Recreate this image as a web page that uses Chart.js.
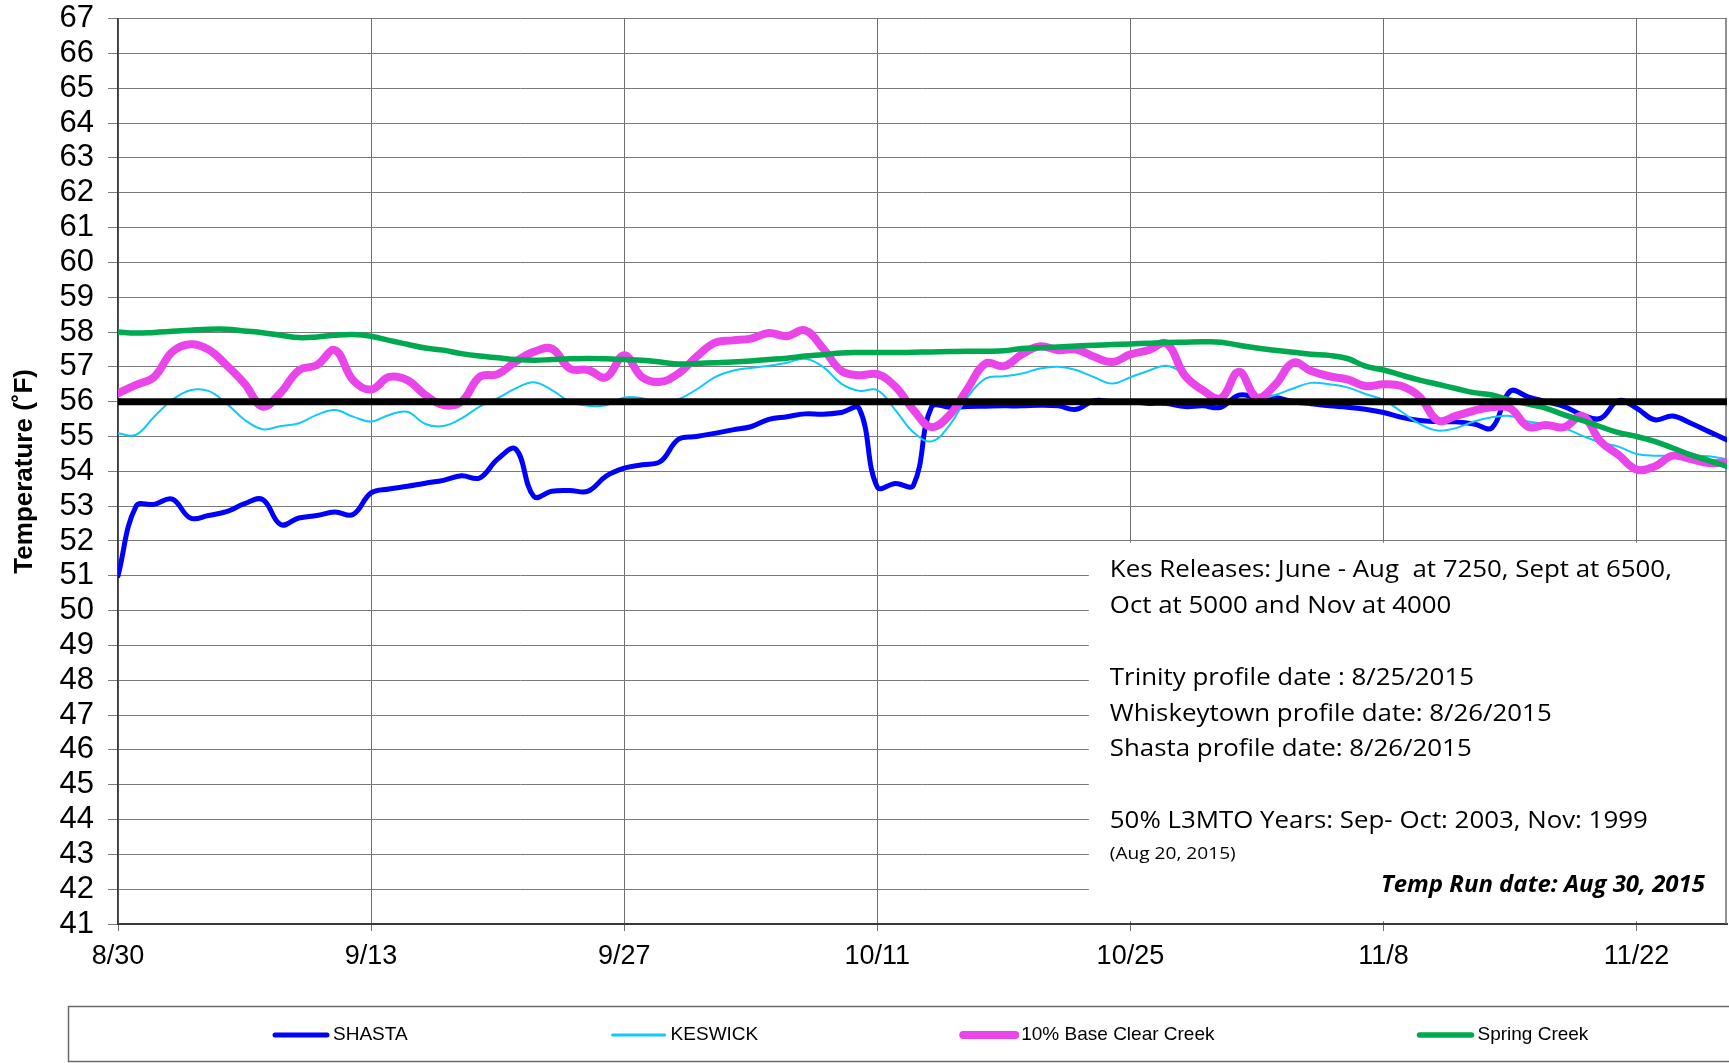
<!DOCTYPE html>
<html>
<head>
<meta charset="utf-8">
<script src="https://cdn.jsdelivr.net/npm/chart.js@4.4.1/dist/chart.umd.min.js"></script>
<style>
  html, body { margin: 0; padding: 0; background: #fff; }
  #chart { display: block; }
</style>
</head>
<body>
<canvas id="chart" width="1729" height="1063"></canvas>
<script>
// x is the day number counted from 8/30; a tick every 14 days
const tickLabels = ["8/30", "9/13", "9/27", "10/11", "10/25", "11/8", "11/22"];
const tickStep = 14;
const lastDay = 89;
const threshold = 56;

const seriesNames = ["SHASTA", "KESWICK", "10% Base Clear Creek", "Spring Creek"];

const shasta = [
  51.0, 53.0, 53.05, 53.2, 52.66, 52.73, 52.84, 53.07, 53.19, 52.47,
  52.66, 52.73, 52.83, 52.76, 53.38, 53.49, 53.57, 53.66, 53.74, 53.87,
  53.81, 54.35, 54.64, 53.28, 53.43, 53.45, 53.43, 53.86, 54.09, 54.19,
  54.28, 54.92, 55.0, 55.09, 55.19, 55.28, 55.49, 55.57, 55.65, 55.64,
  55.69, 55.8, 53.55, 53.65, 53.6, 55.85, 55.84, 55.86, 55.87, 55.88,
  55.88, 55.9, 55.88, 55.78, 56.03, 56.0, 56.0, 55.95, 55.95, 55.86,
  55.88, 55.84, 56.19, 56.12, 56.12, 56.0, 55.94, 55.88, 55.84, 55.78,
  55.69, 55.55, 55.46, 55.43, 55.42, 55.36, 55.25, 56.3, 56.14, 56.0,
  55.86, 55.62, 55.52, 56.03, 55.81, 55.48, 55.59, 55.38, 55.14, 54.9
];

const keswick = [
  55.09, 55.05, 55.57, 56.05, 56.33, 56.31, 55.95, 55.48, 55.21, 55.3,
  55.38, 55.62, 55.76, 55.57, 55.43, 55.62, 55.71, 55.36, 55.3, 55.52,
  55.86, 56.1, 56.38, 56.56, 56.33, 56.0, 55.88, 55.9, 56.12, 56.1,
  55.95, 56.07, 56.35, 56.7, 56.89, 56.97, 57.03, 57.12, 57.23, 57.0,
  56.52, 56.31, 56.33, 55.76, 55.12, 54.86, 55.33, 56.14, 56.67, 56.73,
  56.81, 56.95, 57.0, 56.91, 56.7, 56.52, 56.7, 56.89, 57.03, 56.76,
  56.24, 56.0, 55.95, 56.05, 56.19, 56.38, 56.54, 56.5, 56.41, 56.22,
  56.05, 55.71, 55.36, 55.17, 55.24, 55.43, 55.55, 55.59, 55.43, 55.36,
  55.24, 55.02, 54.83, 54.71, 54.5, 54.45, 54.45, 54.45, 54.43, 54.35
];

const clearCreek = [
  56.24, 56.48, 56.71, 57.43, 57.65, 57.5, 57.05, 56.52, 55.86, 56.26,
  56.9, 57.05, 57.48, 56.62, 56.35, 56.71, 56.62, 56.19, 55.9, 56.0,
  56.71, 56.79, 57.15, 57.43, 57.52, 56.95, 56.91, 56.7, 57.33, 56.7,
  56.57, 56.81, 57.29, 57.69, 57.76, 57.81, 57.97, 57.88, 58.05, 57.53,
  56.89, 56.76, 56.79, 56.43, 55.76, 55.27, 55.62, 56.38, 57.1, 57.02,
  57.36, 57.59, 57.48, 57.5, 57.29, 57.14, 57.36, 57.48, 57.67, 56.76,
  56.33, 56.1, 56.86, 56.12, 56.48, 57.12, 56.88, 56.73, 56.64, 56.45,
  56.5, 56.45, 56.14, 55.46, 55.59, 55.74, 55.84, 55.81, 55.28, 55.33,
  55.27, 55.59, 54.86, 54.47, 54.05, 54.14, 54.45, 54.35, 54.24, 54.26
];

const springCreek = [
  58.0, 57.97, 57.99, 58.02, 58.05, 58.08, 58.08, 58.03, 57.98, 57.91,
  57.84, 57.86, 57.91, 57.93, 57.88, 57.76, 57.65, 57.54, 57.48, 57.38,
  57.31, 57.26, 57.21, 57.19, 57.21, 57.23, 57.24, 57.23, 57.21, 57.19,
  57.14, 57.08, 57.1, 57.12, 57.14, 57.17, 57.21, 57.25, 57.31, 57.35,
  57.4, 57.41, 57.41, 57.41, 57.42, 57.43, 57.44, 57.45, 57.45, 57.46,
  57.53, 57.55, 57.57, 57.6, 57.62, 57.64, 57.66, 57.68, 57.7, 57.71,
  57.72, 57.71, 57.62, 57.54, 57.48, 57.42, 57.36, 57.33, 57.24, 57.02,
  56.91, 56.76, 56.62, 56.5, 56.38, 56.26, 56.19, 56.05, 55.93, 55.81,
  55.62, 55.46, 55.28, 55.11, 55.0, 54.86, 54.67, 54.47, 54.31, 54.14
];

const notes = [
  { text: "Kes Releases: June - Aug  at 7250, Sept at 6500,", at: 51.14 },
  { text: "Oct at 5000 and Nov at 4000", at: 50.13 },
  { text: "Trinity profile date : 8/25/2015", at: 48.04 },
  { text: "Whiskeytown profile date: 8/26/2015", at: 47.01 },
  { text: "Shasta profile date: 8/26/2015", at: 46.0 },
  { text: "50% L3MTO Years: Sep- Oct: 2003, Nov: 1999", at: 43.94 },
  { text: "(Aug 20, 2015)", at: 43.0, small: true },
  { text: "Temp Run date: Aug 30, 2015", at: 42.11, bold: true }
];

const FONT = '"Liberation Sans", Arial, sans-serif';
const NOTE_FONT = '"Open Sans", "Noto Sans", sans-serif';

const toPoints = (arr) => arr.map((y, i) => ({ x: i, y }));

// white box with the run notes, sitting on the grid in the lower right
const notesBox = {
  id: "notesBox",
  beforeDatasetsDraw(chart) {
    const { ctx, chartArea, scales: { x, y } } = chart;
    const left = x.getPixelForValue(53.7);
    const top = y.getPixelForValue(51.95);
    const bottom = y.getPixelForValue(41.08);
    ctx.save();
    ctx.fillStyle = "#fff";
    ctx.fillRect(left, top, chartArea.right - left, bottom - top);
    ctx.strokeStyle = "#6e6e6e";
    ctx.lineWidth = 1.5;
    ctx.beginPath();
    ctx.moveTo(chartArea.right - 1, chartArea.top);
    ctx.lineTo(chartArea.right - 1, chartArea.bottom);
    ctx.stroke();
    ctx.restore();
  },
  afterDatasetsDraw(chart) {
    const { ctx, chartArea, scales: { x, y } } = chart;
    const left = x.getPixelForValue(53.7) + 21;
    ctx.save();
    ctx.fillStyle = "#000";
    ctx.textBaseline = "middle";
    ctx.font = "23px " + NOTE_FONT;
    const sx = 562 / ctx.measureText(notes[0].text).width;
    notes.forEach((n) => {
      const py = y.getPixelForValue(n.at);
      ctx.save();
      if (n.bold) {
        ctx.font = "italic bold 23px " + NOTE_FONT;
        const s = 324 / ctx.measureText(n.text).width;
        ctx.translate(chartArea.right - 22, py);
        ctx.scale(s, 1);
        ctx.textAlign = "right";
      } else {
        ctx.font = (n.small ? "17px " : "23px ") + NOTE_FONT;
        ctx.translate(left, py);
        ctx.scale(sx, 1);
        ctx.textAlign = "left";
      }
      ctx.fillText(n.text, 0, 0);
      ctx.restore();
    });
    ctx.restore();
  }
};

// legend strip along the bottom, items spread apart like the original
const bottomLegend = {
  id: "bottomLegend",
  afterDraw(chart) {
    const ctx = chart.ctx;
    ctx.save();
    ctx.strokeStyle = "#6a6a6a";
    ctx.lineWidth = 1.5;
    ctx.strokeRect(68.5, 1006.5, 1700, 55);
    ctx.font = "19px " + FONT;
    ctx.textBaseline = "middle";
    ctx.fillStyle = "#000";
    let px = 275;
    const py = 1035;
    chart.data.datasets.filter((d) => d.label).forEach((d) => {
      ctx.strokeStyle = d.borderColor;
      ctx.lineWidth = Math.max(d.borderWidth, 3);
      ctx.lineCap = "round";
      ctx.beginPath();
      ctx.moveTo(px, py);
      ctx.lineTo(px + 52, py);
      ctx.stroke();
      ctx.fillText(d.label, px + 58, py);
      px += 58 + ctx.measureText(d.label).width + 205;
    });
    ctx.restore();
  }
};

const lineStyle = { pointRadius: 0, tension: 0.4, fill: false, borderJoinStyle: "round", borderCapStyle: "round" };

new Chart(document.getElementById("chart"), {
  type: "line",
  data: {
    datasets: [
      { ...lineStyle, label: seriesNames[0], data: toPoints(shasta), borderColor: "#0000ff", borderWidth: 5, order: 4 },
      { ...lineStyle, label: seriesNames[1], data: toPoints(keswick), borderColor: "#12c8f6", borderWidth: 2, order: 3 },
      { ...lineStyle, label: seriesNames[2], data: toPoints(clearCreek), borderColor: "#ea45ea", borderWidth: 8, order: 2 },
      { ...lineStyle, label: seriesNames[3], data: toPoints(springCreek), borderColor: "#00a94f", borderWidth: 5.5, order: 1 },
      { ...lineStyle, label: "", data: [{ x: 0, y: threshold }, { x: lastDay, y: threshold }], borderColor: "#000", borderWidth: 7, tension: 0, borderCapStyle: "butt", order: 0 }
    ]
  },
  options: {
    responsive: false,
    animation: false,
    layout: { padding: { top: 0, right: 2, left: 0, bottom: 0 } },
    plugins: {
      legend: { display: false },
      tooltip: { enabled: false }
    },
    scales: {
      x: {
        type: "linear",
        min: 0,
        max: lastDay,
        afterBuildTicks(scale) {
          scale.ticks = tickLabels.map((_, i) => ({ value: i * tickStep }));
        },
        afterFit(scale) { scale.height = 139; },
        ticks: {
          autoSkip: false,
          maxRotation: 0,
          padding: 9,
          color: "#000",
          font: { family: FONT, size: 27 },
          callback: (v) => tickLabels[Math.round(v / tickStep)]
        },
        grid: { color: "#6f6f6f", lineWidth: 1, tickLength: 7 },
        border: { color: "#3a3a3a", width: 2 }
      },
      y: {
        min: 41,
        max: 67,
        afterFit(scale) { scale.width = 118; },
        ticks: {
          stepSize: 1,
          autoSkip: false,
          padding: 14,
          color: "#000",
          // small line height keeps the top label from pushing the plot down
          font: { family: FONT, size: 31, lineHeight: 0.3 }
        },
        grid: { color: "#7a7a7a", lineWidth: 1, tickLength: 10 },
        border: { color: "#3a3a3a", width: 1.5 },
        title: {
          display: true,
          text: "Temperature (˚F)",
          color: "#000",
          font: { family: FONT, size: 26, weight: "bold" },
          padding: { top: 9, bottom: 0 }
        }
      }
    }
  },
  plugins: [notesBox, bottomLegend]
});
</script>
</body>
</html>
